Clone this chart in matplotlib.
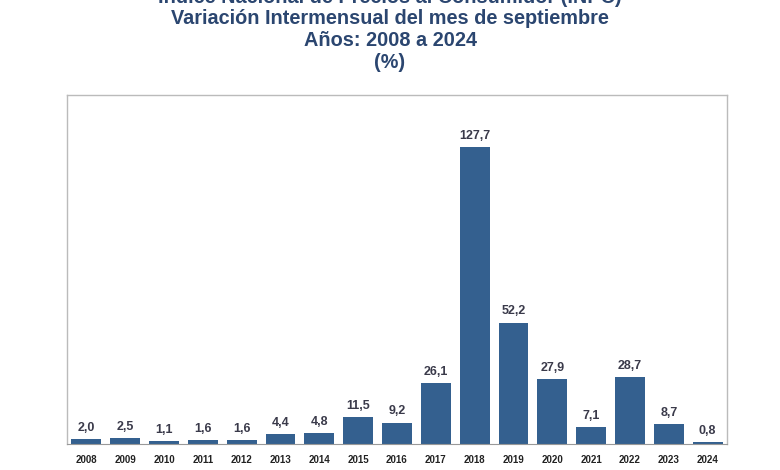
import numpy as np
import matplotlib.pyplot as plt

plt.rcParams['font.family'] = ['Liberation Sans', 'DejaVu Sans']

years = ['2008', '2009', '2010', '2011', '2012', '2013', '2014', '2015', '2016',
         '2017', '2018', '2019', '2020', '2021', '2022', '2023', '2024']
values = [2.0, 2.5, 1.1, 1.6, 1.6, 4.4, 4.8, 11.5, 9.2,
          26.1, 127.7, 52.2, 27.9, 7.1, 28.7, 8.7, 0.8]
title_lines = ['Índice Nacional de Precios al Consumidor (INPC)',
               'Variación Intermensual del mes de septiembre',
               'Años: 2008 a 2024',
               '(%)']

bar_color = '#34608F'
title_color = '#2B4670'

fig = plt.figure(figsize=(7.8, 4.7), dpi=100)
ax = fig.add_axes([67 / 780, 1 - 444 / 470, 660 / 780, 349 / 470])

x = np.arange(len(years))
bars = ax.bar(x, values, width=0.77, color=bar_color)
ax.set_xlim(-0.5, len(years) - 0.5)
ax.set_ylim(0, 150)

for xi, v in zip(x, values):
    ax.text(xi, v + 2.2, f"{v:.1f}".replace('.', ','), ha='center', va='bottom',
            fontsize=9, fontweight='bold', color='#3A3A4A')

ax.set_xticks(x)
ax.set_xticklabels(years, fontsize=7, fontweight='bold', color='#222222')
ax.tick_params(axis='x', length=0, pad=8)
ax.set_yticks([])
for side in ['top', 'left', 'right']:
    ax.spines[side].set_color('#BBBBBB')
    ax.spines[side].set_linewidth(1)
ax.spines['bottom'].set_color('#999999')

ys = [-4, 18, 41, 63]
for line, yy in zip(title_lines, ys):
    fig.text(0.5, 1 - yy / 470, line, ha='center', va='center', fontsize=14.3,
             fontweight='bold', color=title_color)

fig.savefig('out.png', dpi=100)
